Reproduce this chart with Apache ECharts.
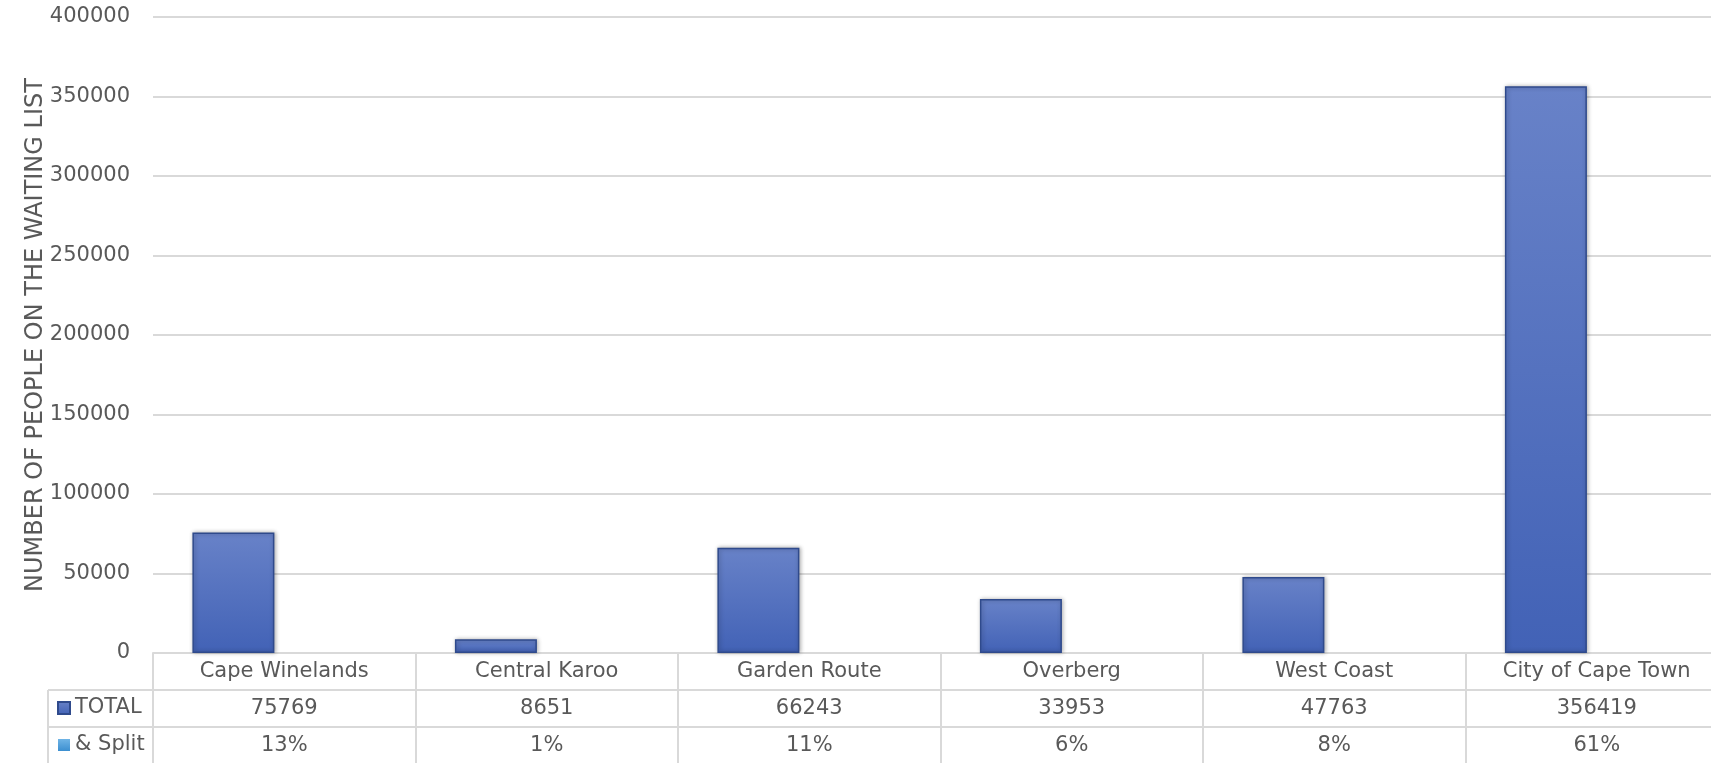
<!DOCTYPE html>
<html>
<head>
<meta charset="utf-8">
<script src="https://cdn.jsdelivr.net/npm/echarts@6/dist/echarts.min.js"></script>
<style>
html,body{margin:0;padding:0;background:#fff;}
#chart{width:1711px;height:763px;}
</style>
</head>
<body>
<div id="chart"></div>
<script>
const categories = ["Cape Winelands", "Central Karoo", "Garden Route", "Overberg", "West Coast", "City of Cape Town"];
const totals = [75769, 8651, 66243, 33953, 47763, 356419];
const splitPct = [13, 1, 11, 6, 8, 61];
const yTicks = [0, 50000, 100000, 150000, 200000, 250000, 300000, 350000, 400000];

const FONT = 'DejaVu Sans';
const FS = 21;
const TXT = '#595959';
const LINE = '#d9d9d9';

const chart = echarts.init(document.getElementById('chart'));

const tableAxis = (data, offset) => ({
  type: 'category',
  gridIndex: 0,
  position: 'bottom',
  offset: offset,
  data: data,
  axisLine: { show: true, lineStyle: { color: LINE, width: 2 } },
  axisTick: { show: false },
  axisLabel: { interval: 0, margin: 8, color: TXT, fontFamily: FONT, fontSize: FS, lineHeight: 22 },
  splitLine: { show: false }
});

chart.setOption({
  animation: false,
  backgroundColor: '#ffffff',
  grid: { left: 153, width: 1575, top: 17, bottom: 110, containLabel: false, outerBoundsMode: 'none' },
  legend: {
    orient: 'vertical',
    left: 57,
    top: 690,
    height: 200,
    padding: 0,
    itemGap: 1,
    itemWidth: 12,
    itemHeight: 12,
    icon: 'rect',
    textStyle: { color: TXT, fontFamily: FONT, fontSize: FS, lineHeight: 36 },
    data: ['TOTAL', '& Split']
  },
  xAxis: [
    {
      type: 'category',
      data: categories,
      position: 'bottom',
      axisLine: { show: true, lineStyle: { color: LINE, width: 2 } },
      axisTick: { show: true, interval: 0, length: 110, lineStyle: { color: LINE, width: 2 } },
      axisLabel: { interval: 0, margin: 8, color: TXT, fontFamily: FONT, fontSize: FS, lineHeight: 22 },
      splitLine: { show: false }
    },
    tableAxis(totals.map(String), 37),
    tableAxis(splitPct.map(v => v + '%'), 74)
  ],
  yAxis: {
    type: 'value',
    min: yTicks[0],
    max: yTicks[yTicks.length - 1],
    interval: yTicks[1] - yTicks[0],
    name: 'NUMBER OF PEOPLE ON THE WAITING LIST',
    nameLocation: 'middle',
    nameGap: 105,
    nameMoveOverlap: false,
    nameTextStyle: { color: TXT, fontFamily: FONT, fontSize: 24 },
    axisLine: { show: false },
    axisTick: { show: false },
    axisLabel: { margin: 23, color: TXT, fontFamily: FONT, fontSize: FS, formatter: v => String(v) },
    splitLine: { lineStyle: { color: LINE, width: 2 } }
  },
  series: [
    {
      name: 'TOTAL',
      type: 'bar',
      xAxisIndex: 0,
      barWidth: 82,
      barGap: '24%',
      data: totals,
      itemStyle: {
        color: new echarts.graphic.LinearGradient(0, 0, 0, 1, [
          { offset: 0, color: '#6882c8' },
          { offset: 1, color: '#4262b6' }
        ]),
        borderColor: '#2f4a8c',
        borderWidth: 1.5,
        shadowColor: 'rgba(0,0,0,0.3)',
        shadowBlur: 4,
        shadowOffsetX: 1
      }
    },
    {
      name: '& Split',
      type: 'bar',
      xAxisIndex: 0,
      barWidth: 82,
      data: splitPct.map(v => v / 100),
      itemStyle: {
        color: new echarts.graphic.LinearGradient(0, 0, 0, 1, [
          { offset: 0, color: '#6fb4e6' },
          { offset: 1, color: '#3c8fd0' }
        ]),
        borderWidth: 0
      }
    }
  ],
  graphic: [
    { type: 'line', shape: { x1: 48, y1: 690, x2: 153, y2: 690 }, style: { stroke: LINE, lineWidth: 2 } },
    { type: 'line', shape: { x1: 48, y1: 727, x2: 153, y2: 727 }, style: { stroke: LINE, lineWidth: 2 } },
    { type: 'line', shape: { x1: 48, y1: 690, x2: 48, y2: 763 }, style: { stroke: LINE, lineWidth: 2 } }
  ]
});
</script>
</body>
</html>
